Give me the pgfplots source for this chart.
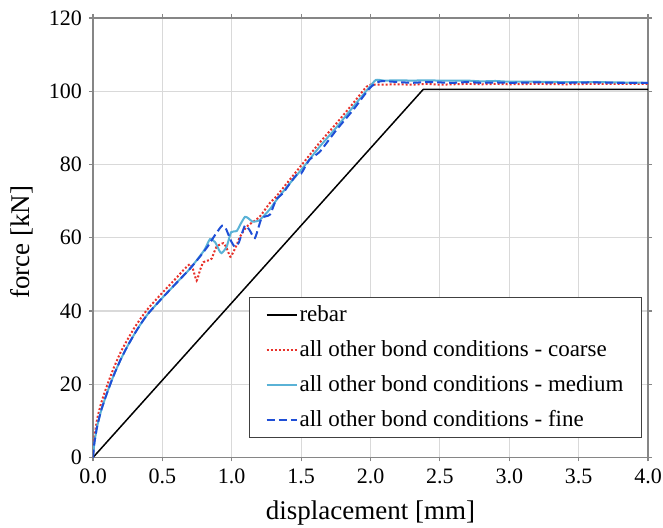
\documentclass[border=0pt]{standalone}
\usepackage{pgfplots}
\pgfplotsset{compat=1.18}
\usepackage{fontspec}
\setmainfont{Liberation Serif}

\definecolor{coarse}{HTML}{E8312A}
\definecolor{medium}{HTML}{5AB2D6}
\definecolor{fine}{HTML}{1F4FD6}
\definecolor{axgray}{HTML}{868686}
\definecolor{gridgray}{HTML}{D9D9D9}

\begin{document}
\begin{tikzpicture}
\begin{axis}[
    scale only axis,
    width=277.5pt, height=219.75pt,
    xmin=0, xmax=4, ymin=0, ymax=120,
    xtick={0,0.5,...,4}, ytick={0,20,...,120},
    grid=major,
    major grid style={gridgray, line width=0.6pt},
    axis line style={axgray, line width=0.6pt},
    tick style={axgray, line width=0.6pt},
    tick align=outside, major tick length=2pt,
    /pgf/number format/assume math mode=true,
    ticklabel style={font=\fontsize{11}{13}\selectfont},
    xticklabel style={/pgf/number format/.cd, fixed, fixed zerofill, precision=1},
    yticklabel style={/pgf/number format/.cd, fixed, precision=0},
    label style={font=\fontsize{13.5}{16}\selectfont},
    xlabel={displacement [mm]},
    ylabel={force [kN]},
    xlabel style={at={(axis description cs:0.5,-0.126)}, anchor=center},
    ylabel style={at={(axis description cs:-0.128,0.49)}, anchor=center},
    legend cell align=left,
    legend image code/.code={\draw[#1] (0pt,0pt) -- (15pt,0pt);},
    legend style={at={(axis description cs:0.281,0.044)}, anchor=south west,
        font=\fontsize{11.5}{13}\selectfont, draw=black!75, line width=0.6pt,
        inner xsep=8pt, inner ysep=3pt, row sep=6pt,
        nodes={inner sep=1pt}},
]
\addplot[black, line width=0.75pt] coordinates {(0,0) (2.38,100.5) (4,100.5)};
\addlegendentry{rebar}

\addplot[coarse, line width=1pt, dash pattern=on 1pt off 1pt, smooth, tension=0.35] coordinates {
(0,0) (0.01,5.5) (0.03,10.5) (0.06,15) (0.1,19.5) (0.15,24.5) (0.2,28.8)
(0.25,32.3) (0.3,35.5) (0.35,38.3) (0.4,40.8) (0.5,45) (0.6,49) (0.66,51.5)
(0.70,52.8) (0.72,51.5) (0.747,48.3) (0.77,51) (0.795,53.3) (0.83,53.8)
(0.855,54.3) (0.89,57.5) (0.94,58.5) (0.965,57) (0.99,54.8) (1.01,56)
(1.035,58) (1.06,60.3) (1.107,63) (1.16,64.5) (1.203,65.8) (1.275,69.5)
(1.32,71.2) (1.4,75) (1.515,80.4) (1.63,85.8) (1.756,91.3) (1.87,96.5)
(1.97,101.2) (2.0,101.8) (2.1,101.8) (2.2,101.9) (2.3,101.8) (2.4,102)
(2.5,101.8) (2.6,101.9) (2.7,102) (2.8,101.9) (2.9,102) (3.0,101.9)
(3.2,102) (3.4,101.9) (3.6,102) (3.8,102) (4.0,102)};
\addlegendentry{all other bond conditions - coarse}

\addplot[medium, line width=1pt, smooth, tension=0.35] coordinates {
(0,0) (0.01,4) (0.03,8.5) (0.06,13) (0.1,17.5) (0.15,22.5) (0.2,26.8)
(0.25,30.5) (0.3,33.8) (0.35,36.8) (0.4,39.4) (0.5,43.6) (0.6,47.6)
(0.7,51.6) (0.8,56.5) (0.843,59.6) (0.88,58.8) (0.91,56.5) (0.927,55.8)
(0.963,57.5) (0.995,61.5) (1.035,61.8) (1.06,63.5) (1.095,65.7) (1.12,65.3)
(1.15,64.4) (1.2,64.8) (1.275,67.8) (1.32,70.2) (1.4,74) (1.515,79.2)
(1.63,84.7) (1.756,90.2) (1.87,95.5) (1.996,101.3) (2.04,103.1) (2.1,102.9)
(2.2,103) (2.3,102.9) (2.4,103) (2.5,102.9) (2.6,102.9) (2.7,102.9)
(2.8,102.7) (2.9,102.8) (3.0,102.6) (3.2,102.6) (3.4,102.5) (3.6,102.5)
(3.8,102.4) (4.0,102.3)};
\addlegendentry{all other bond conditions - medium}

\addplot[fine, line width=1pt, dash pattern=on 4pt off 2pt, smooth, tension=0.35] coordinates {
(0,0) (0.01,4) (0.03,8.5) (0.06,13) (0.1,17.5) (0.15,22.5) (0.2,26.8)
(0.25,30.5) (0.3,33.8) (0.35,36.8) (0.4,39.4) (0.5,43.6) (0.6,47.6)
(0.7,51.6) (0.77,54.8) (0.83,57.8) (0.87,60.2) (0.93,63.3) (0.96,62.3)
(0.99,59.5) (1.02,57.6) (1.05,58.6) (1.095,63.3) (1.13,62) (1.167,59.9)
(1.215,65.3) (1.275,66.3) (1.32,70.4) (1.37,72.2) (1.42,74.9) (1.468,77.2)
(1.5,77.5) (1.56,81.3) (1.635,83.5) (1.756,89.5) (1.875,94.9) (1.996,100.9)
(2.07,102.7) (2.2,102.5) (2.3,102.3) (2.4,102.5) (2.5,102.4) (2.6,102.3)
(2.7,102.5) (2.8,102.3) (2.9,102.4) (3.0,102.3) (3.2,102.4) (3.4,102.3)
(3.6,102.4) (3.8,102.3) (4.0,102.3)};
\addlegendentry{all other bond conditions - fine}
\end{axis}
\pgfresetboundingbox
\path (-46.5pt,-35pt) rectangle (285pt,228.75pt);
\end{tikzpicture}
\end{document}
